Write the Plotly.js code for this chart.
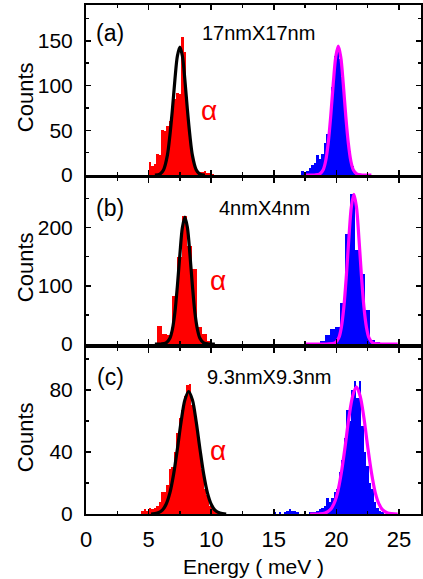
<!DOCTYPE html>
<html><head><meta charset="utf-8">
<script src="https://cdn.plot.ly/plotly-3.0.1.min.js"></script>
<style>html,body{margin:0;padding:0;background:#fff}#chart{width:423px;height:579px}</style>
</head><body><div id="chart"></div>
<script>
// ---- Panel (a) 17nmX17nm ----
const redA_E = [5.1,5.3,5.5,5.7,5.9,6.1,6.3,6.5,6.7,6.9,7.1,7.3,7.5,7.7,7.9,8.1,8.3,8.5,8.7,8.9,9.1,9.3,9.5,9.7,9.9,10.1];
const redA_N = [15,10,12,23,22,50,49,55,60,73,85,92,90,154,138,70,45,22,8,4,3,3,4,2,2,1];
const blueA_E = [17.3,17.5,17.7,17.9,18.1,18.3,18.5,18.7,18.9,19.1,19.3,19.5,19.7,19.9,20.1,20.3,20.5,20.7,20.9,21.1,21.3,21.5,21.7];
const blueA_N = [4,2,5,8,11,13,22,18,24,36,46,64,98,133,142,130,110,76,46,27,10,4,2];
const fitRedA_E = [5.5,5.9,6.2,6.5,6.7,6.9,7.1,7.3,7.5,7.7,7.9,8.1,8.3,8.5,8.8,9.1,9.5];
const fitRedA_N = [0,1,6,22,44,73,106,133,143,133,106,73,44,22,6,1,0];
const fitBlueA_E = [17.5,18.25,18.65,18.95,19.15,19.35,19.55,19.75,19.95,20.15,20.35,20.55,20.75,20.95,21.15,21.35,21.65,22.05,22.8];
const fitBlueA_N = [0,0,1,6,16,36,66,102,132,144,132,102,66,36,16,6,1,0,0];

// ---- Panel (b) 4nmX4nm ----
const redB_E = [5.84,6.24,6.64,7.04,7.44,7.84,8.24,8.64,9.04,9.44,9.84];
const redB_N = [31,17,16,82,150,220,168,128,30,17,6];
const blueB_E = [18.9,19.3,19.7,20.1,20.5,20.9,21.3,21.7,22.1,22.5,22.9,23.3];
const blueB_N = [5,16,25,30,70,189,258,162,120,59,7,3];
const fitRedB_E = [5.5,6.0,6.4,6.7,6.9,7.1,7.3,7.5,7.7,7.9,8.1,8.3,8.5,8.7,8.9,9.1,9.4,9.8,10.3];
const fitRedB_N = [0,0,2,10,25,54,100,154,200,218,200,154,100,54,25,10,2,0,0];
const fitBlueB_E = [17.5,19.2,19.9,20.2,20.4,20.6,20.8,21.0,21.2,21.4,21.6,21.8,22.0,22.2,22.4,22.6,22.9,23.6,24.9];
const fitBlueB_N = [0,0,2,11,29,64,118,182,236,257,236,182,118,64,29,11,2,0,0];

// ---- Panel (c) 9.3nmX9.3nm ----
const redC_E = [4.5,4.7,4.9,5.1,5.3,5.5,5.7,5.9,6.1,6.3,6.5,6.7,6.9,7.1,7.3,7.5,7.7,7.9,8.1,8.3,8.5,8.7,8.9,9.1,9.3,9.5,9.7,9.9,10.1,10.3,10.5,10.7];
const redC_N = [2,3,2,4,3,4,5,8,14,14,19,29,30,40,52,62,67,76,83,84,70,65,53,40,29,16,12,5,4,3,2,1];
const blueC_E = [15.1,15.3,15.5,15.7,15.9,16.1,16.3,16.5,16.7,16.9,17.1,17.3,17.5,17.7,17.9,18.1,18.3,18.5,18.7,18.9,19.1,19.3,19.5,19.7,19.9,20.1,20.3,20.5,20.7,20.9,21.1,21.3,21.5,21.7,21.9,22.1,22.3,22.5,22.7,22.9,23.1,23.3,23.5,23.7];
const blueC_N = [1,0,1,0,1,2,3,2,2,1,0,0,2,0,1,1,1,2,3,4,5,10,8,10,14,16,27,35,49,67,60,80,86,75,86,57,40,31,20,16,8,4,2,1];
const fitRedC_E = [5.2,5.7,6.1,6.4,6.7,7.0,7.3,7.6,7.9,8.2,8.5,8.8,9.1,9.4,9.7,10.0,10.3,10.7,11.2];
const fitRedC_N = [0,0.6,2.5,6.3,13.6,25.7,42,59.6,73.6,79,73.6,59.6,42,25.7,13.6,6.3,2.5,0.6,0];
const fitBlueC_E = [17.9,18.6,19.1,19.5,19.8,20.1,20.4,20.7,21.0,21.3,21.6,21.9,22.2,22.5,22.8,23.1,23.4,23.7,24.1,24.9];
const fitBlueC_N = [0,0,0.6,2.6,6.5,14,26.7,43.5,62,76,82,76,62,43.5,26.7,14,6.5,2.6,0.6,0];

const panelLabels = ['(a)','(b)','(c)'];
const sizeLabels = ['17nmX17nm','4nmX4nm','9.3nmX9.3nm'];
const peakLabel = '\u03B1';
const yTitle = 'Counts';
const xTitle = 'Energy ( meV )';

const FONT = 'Liberation Sans, Arial, sans-serif';

function bars(x, y, color, w, ax){
  return {type:'bar', x:x, y:y, width:w, marker:{color:color, line:{width:0}},
          xaxis:ax[0], yaxis:ax[1], hoverinfo:'skip', showlegend:false};
}
function fit(x, y, color, ax){
  return {type:'scatter', mode:'lines', x:x, y:y, line:{color:color, width:3.2, shape:'spline', smoothing:0.9},
          xaxis:ax[0], yaxis:ax[1], hoverinfo:'skip', showlegend:false, cliponaxis:true};
}
const A = ['x','y'], B = ['x2','y2'], C = ['x3','y3'];
const data = [
  bars(redA_E, redA_N, '#ff0000', 0.2, A), bars(blueA_E, blueA_N, '#0000ff', 0.2, A),
  fit(fitRedA_E, fitRedA_N, '#000000', A), fit(fitBlueA_E, fitBlueA_N, '#ff00ff', A),
  bars(redB_E, redB_N, '#ff0000', 0.4, B), bars(blueB_E, blueB_N, '#0000ff', 0.4, B),
  fit(fitRedB_E, fitRedB_N, '#000000', B), fit(fitBlueB_E, fitBlueB_N, '#ff00ff', B),
  bars(redC_E, redC_N, '#ff0000', 0.2, C), bars(blueC_E, blueC_N, '#0000ff', 0.2, C),
  fit(fitRedC_E, fitRedC_N, '#000000', C), fit(fitBlueC_E, fitBlueC_N, '#ff00ff', C)
];

const tickFont = {family:FONT, size:21, color:'#000'};
function xax(anchor, labels){
  const o = {anchor:anchor, range:[0,26.76], tick0:0, dtick:5, showline:true, linewidth:2, linecolor:'#000',
    mirror:'ticks', ticks:'inside', ticklen:5, tickwidth:1.5, tickcolor:'#000', showgrid:false, zeroline:false,
    minor:{dtick:2.5, ticks:'inside', ticklen:3, tickwidth:1.5, tickcolor:'#000', showgrid:false},
    showticklabels:labels, tickfont:{family:FONT, size:22, color:'#000'}, ticklabelstandoff:5, fixedrange:true};
  if(labels){ o.title = {text:xTitle, font:{family:FONT, size:21, color:'#000'}, standoff:8}; }
  return o;
}
function yax(anchor, domain, range, dtick){
  return {anchor:anchor, domain:domain, range:range, tick0:0, dtick:dtick, showline:true, linewidth:2, linecolor:'#000',
    mirror:'ticks', ticks:'inside', ticklen:5, tickwidth:1.5, tickcolor:'#000', showgrid:false, zeroline:false,
    minor:{dtick:dtick/2, ticks:'inside', ticklen:3, tickwidth:1.5, tickcolor:'#000', showgrid:false},
    tickfont:tickFont, ticklabelstandoff:7, fixedrange:true};
}

function panelAnn(i, xr, yr, ypanel, yalpha){
  return [
    {text:panelLabels[i], xref:xr+' domain', yref:yr+' domain', x:0.072, y:ypanel, xanchor:'center', yanchor:'middle', showarrow:false, font:{family:FONT, size:23, color:'#000'}},
    {text:sizeLabels[i], xref:xr+' domain', yref:yr+' domain', x:[0.516,0.533,0.549][i], y:ypanel, xanchor:'center', yanchor:'middle', showarrow:false, font:{family:FONT, size:20, color:'#000'}},
    {text:peakLabel, xref:xr+' domain', yref:yr+' domain', x:[0.367,0.394,0.394][i], y:yalpha, xanchor:'center', yanchor:'middle', showarrow:false, font:{family:FONT, size:28, color:'#ff0000'}}
  ];
}
const annotations = [].concat(
  panelAnn(0,'x','y',0.835,0.38),
  panelAnn(1,'x2','y2',0.82,0.385),
  panelAnn(2,'x3','y3',0.825,0.385),
  [0.819,0.485,0.151].map(yy => ({text:yTitle, xref:'paper', yref:'paper', x:-0.182, y:yy, textangle:-90,
     xanchor:'center', yanchor:'middle', showarrow:false, font:{family:FONT, size:22, color:'#000'}}))
);

const layout = {
  width:423, height:579, margin:{l:86, r:2, t:5, b:65},
  paper_bgcolor:'#fff', plot_bgcolor:'#fff', barmode:'overlay', bargap:0,
  showlegend:false,
  xaxis: xax('y', false), xaxis2: xax('y2', false), xaxis3: xax('y3', true),
  yaxis: yax('x', [0.666,1], [0,190], 50),
  yaxis2: yax('x2', [0.334,0.660], [0,285], 100),
  yaxis3: yax('x3', [0,0.326], [0,107], 40),
  annotations: annotations
};
Plotly.newPlot('chart', data, layout, {displayModeBar:false, staticPlot:true});
</script></body></html>
